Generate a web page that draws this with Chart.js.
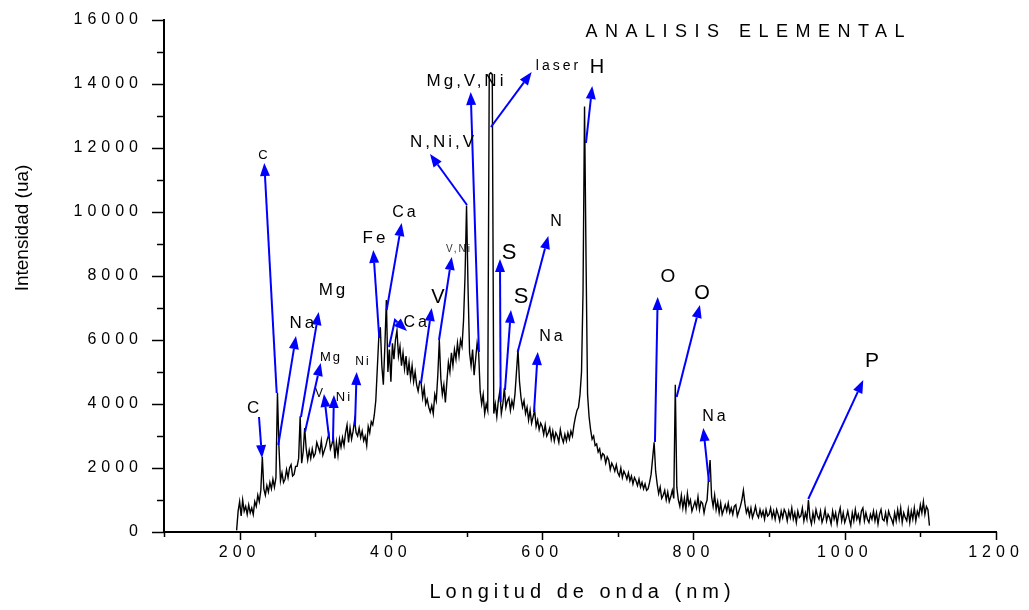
<!DOCTYPE html>
<html>
<head>
<meta charset="utf-8">
<title>Analisis elemental</title>
<script src="https://cdn.jsdelivr.net/npm/chart.js@4.4.0/dist/chart.umd.min.js"></script>
<style>
  html, body { margin: 0; padding: 0; background: #fff; }
  canvas { display: block; }
</style>
</head>
<body>
<canvas id="spectrum" width="1029" height="610"></canvas>
<script>
var WL_START = 196;
var WL_STEP = 2;

var intensity = [
  // 196
  50, 650, 950, 500, 1000, 650, 800, 550, 850, 600,
  // 216
  750, 550, 950, 800, 1150, 950, 1300, 2350, 1350, 1150,
  // 236
  1450, 1250, 1550, 1350, 1650, 1400, 1700, 4350, 2650, 1600,
  // 256
  1850, 1550, 1650, 1950, 1700, 2000, 2100, 1750, 1800, 2050,
  // 276
  2050, 2300, 3620, 2150, 2500, 3250, 2600, 2250, 2550, 2300,
  // 296
  2600, 2350, 2450, 2800, 2650, 2500, 2850, 2400, 2550, 2700,
  // 316
  2900, 3050, 2600, 2750, 2950, 2300, 2800, 2400, 2900, 2650,
  // 336
  2950, 2700, 3100, 3350, 2800, 3250, 2900, 3150, 3500, 3100,
  // 356
  3000, 3250, 2950, 3150, 2850, 3000, 2700, 3300, 3100, 3450,
  // 376
  3350, 3650, 4100, 5100, 6100, 6400, 5200, 4600, 5800, 7250,
  // 396
  5000, 5700, 4700, 5900, 5400, 6000, 6300, 5500, 5800, 5200,
  // 416
  5600, 5100, 5500, 4900, 5300, 4800, 5200, 4700, 5000, 4600,
  // 436
  4400, 4700, 4650, 4200, 4500, 4000, 4150, 3900, 3750, 3950,
  // 456
  3700, 4300, 4100, 4900, 6000, 4800, 4300, 4600, 4050, 4700,
  // 476
  5300, 5000, 5600, 5200, 5700, 5400, 5900, 5500, 6000, 5800,
  // 496
  6600, 8000, 10200, 7600, 5600, 5200, 5700, 4900, 5400, 5900,
  // 516
  5600, 4400, 4000, 4300, 3700, 4000, 3800, 14300, 14350, 14300,
  // 536
  3700, 4000, 3600, 4100, 4400, 3700, 4000, 4500, 3900, 4100,
  // 556
  4200, 3800, 4100, 3900, 4300, 5000, 5700, 4700, 4200, 3900,
  // 576
  4100, 3700, 3900, 3500, 3800, 3400, 3600, 3800, 3300, 3500,
  // 596
  3200, 3400, 3300, 3050, 3350, 3000, 3100, 3250, 2900, 3150,
  // 616
  2850, 3100, 3000, 2800, 3200, 2950, 2800, 3050, 2850, 3100,
  // 636
  2900, 3150, 3000, 3350, 3600, 3800, 3900, 4300, 5000, 7500,
  // 656
  13300, 8500, 4300, 3600, 3200, 2900, 3000, 2700, 2750, 2500,
  // 676
  2600, 2300, 2450, 2400, 2150, 2350, 2250, 1950, 2150, 2050,
  // 696
  1900, 2100, 1850, 1750, 2000, 1700, 1900, 1800, 1650, 1850,
  // 716
  1600, 1750, 1500, 1700, 1600, 1450, 1650, 1400, 1550, 1350,
  // 736
  1500, 1300, 1350, 1550, 1800, 2300, 2800, 1900, 1500, 1200,
  // 756
  1400, 1050, 1150, 1300, 1000, 1250, 950, 1100, 1300, 1050,
  // 776
  4600, 1400, 1000, 800, 1150, 750, 1050, 700, 1200, 850,
  // 796
  1000, 650, 800, 950, 750, 1100, 700, 950, 900, 600,
  // 816
  850, 1000, 1700, 2250, 1100, 800, 1150, 700, 950, 600,
  // 836
  900, 550, 700, 850, 650, 900, 600, 750, 550, 800,
  // 856
  850, 500, 650, 800, 1000, 1300, 900, 600, 750, 500,
  // 876
  750, 450, 600, 800, 550, 450, 700, 500, 650, 400,
  // 896
  700, 500, 550, 750, 450, 650, 400, 700, 550, 350,
  // 916
  650, 450, 700, 600, 350, 650, 450, 750, 400, 600,
  // 936
  300, 650, 450, 500, 750, 350, 600, 400, 1000, 450,
  // 956
  250, 600, 350, 700, 500, 400, 650, 300, 450, 700,
  // 976
  350, 550, 450, 250, 650, 400, 600, 250, 550, 750,
  // 996
  350, 600, 300, 450, 650, 400, 200, 600, 350, 700,
  // 1016
  400, 550, 300, 650, 750, 350, 600, 400, 300, 550,
  // 1036
  400, 650, 350, 600, 250, 550, 700, 400, 350, 600,
  // 1056
  300, 650, 500, 400, 250, 600, 350, 700, 400, 750,
  // 1076
  300, 600, 450, 350, 700, 300, 650, 400, 750, 350,
  // 1096
  650, 500, 850, 600, 950, 550, 800, 700, 200
];
var wavelength = intensity.map(function(v, i) { return WL_START + i * WL_STEP; });

// peak identifications: arrow from the line (nm, ua) to the tip, then the label
var peakNames = ['C', 'C', 'Na', 'Mg', 'Mg', 'V', 'Ni', 'Ni', 'Fe', 'Ca', 'Ca', 'V', 'V,Ni',
  'N,Ni,V', 'Mg,V,Ni', 'laser', 'S', 'S', 'N', 'Na', 'H', 'O', 'O', 'Na', 'P'];
var arrowFrom = [[225.6, 3594], [249.0, 4344], [251.1, 2719], [281.1, 3594], [286.4, 3125],
  [318.1, 2969], [323.4, 2844], [352.5, 3344], [384.6, 6063], [394.4, 6938], [397.5, 5781],
  [439.8, 4656], [463.6, 6000], [500.6, 10219], [516.4, 5625], [532.3, 12656], [545.1, 4063],
  [550.8, 4438], [567.6, 5625], [589.2, 3750], [657.9, 12156], [749.1, 2813], [777.8, 4219],
  [820.5, 1563], [951.8, 1031]];
var arrowTo = [[229.6, 2312], [232.6, 11531], [274.5, 6125], [304.5, 6875], [307.2, 5281],
  [311.5, 4313], [324.7, 4281], [354.7, 5000], [376.7, 8813], [414.2, 9656], [421.3, 6281],
  [453.9, 7000], [480.4, 8594], [451.7, 11813], [505.5, 13750], [586.1, 14375], [544.2, 8531],
  [558.7, 6938], [608.1, 9250], [594.1, 5625], [666.2, 13938], [752.7, 7344], [808.6, 7094],
  [813.0, 3250], [1024.5, 4750]];
var arrowBend = { 10: [405.4, 6625] };
var labelAt = [[217.7, 3875], [230.9, 11781], [282.4, 6531], [322.1, 7563], [319.5, 5469],
  [304.9, 4313], [336.6, 4219], [361.8, 5313], [377.6, 9188], [417.3, 9969], [432.1, 6531],
  [462.2, 7313], [488.7, 8844], [467.5, 12188], [497.9, 14094], [619.6, 14563], [556.1, 8719],
  [572.0, 7344], [618.2, 9688], [611.6, 6094], [672.5, 14531], [766.3, 7969], [811.3, 7469],
  [827.1, 3594], [1036.0, 5344]];
var labelSize = [17, 13, 17, 17, 13, 12, 13, 12, 17, 16, 16, 20, 10, 17, 17, 14, 22, 22, 16, 16,
  20, 19, 20, 16, 21];

var FONT = '"Liberation Sans", Arial, Helvetica, sans-serif';
var BLUE = '#0000ff';

function spacedText(ctx, txt, cx, cy, size, spacing, color) {
  ctx.save();
  ctx.font = size + 'px ' + FONT;
  ctx.letterSpacing = spacing + 'px';
  ctx.fillStyle = color;
  ctx.textBaseline = 'middle';
  ctx.textAlign = 'left';
  var w = ctx.measureText(txt).width - spacing;
  ctx.fillText(txt, cx - w / 2, cy);
  ctx.restore();
}

function drawArrow(ctx, pts) {
  var n = pts.length;
  var tip = pts[n - 1], prev = pts[n - 2];
  var ang = Math.atan2(tip[1] - prev[1], tip[0] - prev[0]);
  var len = 13, half = 5;
  var bx = tip[0] - len * Math.cos(ang), by = tip[1] - len * Math.sin(ang);
  ctx.beginPath();
  ctx.moveTo(pts[0][0], pts[0][1]);
  for (var i = 1; i < n - 1; i++) ctx.lineTo(pts[i][0], pts[i][1]);
  ctx.lineTo(bx, by);
  ctx.stroke();
  ctx.beginPath();
  ctx.moveTo(tip[0], tip[1]);
  ctx.lineTo(bx + half * Math.sin(ang), by - half * Math.cos(ang));
  ctx.lineTo(bx - half * Math.sin(ang), by + half * Math.cos(ang));
  ctx.closePath();
  ctx.fill();
}

var spacedTicks = {
  id: 'spacedTicks',
  beforeDraw: function(chart) {
    chart.ctx.letterSpacing = '5px';
  },
  beforeDatasetsDraw: function(chart) {
    chart.ctx.letterSpacing = '0px';
  }
};

var decorations = {
  id: 'decorations',
  afterDraw: function(chart) {
    var ctx = chart.ctx;
    var xs = chart.scales.x, ys = chart.scales.y;
    var area = chart.chartArea;

    // tick marks, long on labelled values
    ctx.save();
    ctx.strokeStyle = '#000';
    ctx.lineWidth = 1.5;
    xs.ticks.forEach(function(t) {
      var px = Math.round(xs.getPixelForValue(t.value)) + 0.5;
      var l = t.value % 200 === 0 ? 8 : 5;
      ctx.beginPath();
      ctx.moveTo(px, area.bottom);
      ctx.lineTo(px, area.bottom + l);
      ctx.stroke();
    });
    ys.ticks.forEach(function(t) {
      var py = Math.round(ys.getPixelForValue(t.value)) + 0.5;
      var l = t.value % 2000 === 0 ? 12 : 7;
      ctx.beginPath();
      ctx.moveTo(area.left, py);
      ctx.lineTo(area.left - l, py);
      ctx.stroke();
    });
    ctx.restore();

    // axis titles and chart title
    spacedText(ctx, 'Longitud de onda (nm)', (area.left + area.right) / 2, 592, 20, 5, '#000');
    ctx.save();
    ctx.translate(23, 228);
    ctx.rotate(-Math.PI / 2);
    ctx.font = '19px ' + FONT;
    ctx.fillStyle = '#000';
    ctx.textAlign = 'center';
    ctx.textBaseline = 'middle';
    ctx.fillText('Intensidad (ua)', 0, 0);
    ctx.restore();
    spacedText(ctx, 'ANALISIS ELEMENTAL', 745, 32, 18, 7.5, '#000');

    // peak arrows
    ctx.save();
    ctx.strokeStyle = BLUE;
    ctx.fillStyle = BLUE;
    ctx.lineWidth = 2;
    for (var i = 0; i < peakNames.length; i++) {
      var pts = [[xs.getPixelForValue(arrowFrom[i][0]), ys.getPixelForValue(arrowFrom[i][1])]];
      if (arrowBend[i]) {
        pts.push([xs.getPixelForValue(arrowBend[i][0]), ys.getPixelForValue(arrowBend[i][1])]);
      }
      pts.push([xs.getPixelForValue(arrowTo[i][0]), ys.getPixelForValue(arrowTo[i][1])]);
      drawArrow(ctx, pts);
    }
    ctx.restore();

    for (var j = 0; j < peakNames.length; j++) {
      var sz = labelSize[j];
      var sp = Math.max(1, Math.round(sz * 0.18));
      var col = sz <= 10 ? '#333' : '#000';
      spacedText(ctx, peakNames[j], xs.getPixelForValue(labelAt[j][0]),
        ys.getPixelForValue(labelAt[j][1]), sz, sp, col);
    }
  }
};

var points = wavelength.map(function(w, i) { return { x: w, y: intensity[i] }; });

var ctx = document.getElementById('spectrum').getContext('2d');
window.myChart = new Chart(ctx, {
  type: 'line',
  data: {
    datasets: [{
      label: 'espectro',
      data: points,
      borderColor: '#000',
      borderWidth: 1.4,
      pointRadius: 0,
      tension: 0,
      fill: false
    }]
  },
  options: {
    responsive: false,
    animation: false,
    devicePixelRatio: 1,
    layout: { padding: { left: 0, right: 33, top: 20, bottom: 0 } },
    plugins: {
      legend: { display: false },
      title: { display: false },
      tooltip: { enabled: false }
    },
    scales: {
      x: {
        type: 'linear',
        min: 100,
        max: 1200,
        grid: { display: true, drawOnChartArea: false, drawTicks: false },
        border: { display: true, color: '#000', width: 2 },
        ticks: {
          stepSize: 100,
          autoSkip: false,
          maxRotation: 0,
          padding: 11,
          color: '#000',
          font: { family: FONT, size: 16 },
          callback: function(v) { return v % 200 === 0 ? String(v) : ''; }
        },
        afterFit: function(scale) {
          scale.height = 78;
          scale.paddingLeft = 0;
          scale.paddingRight = 0;
        }
      },
      y: {
        min: 0,
        max: 16000,
        grid: { display: true, drawOnChartArea: false, drawTicks: false },
        border: { display: true, color: '#000', width: 2 },
        ticks: {
          stepSize: 1000,
          autoSkip: false,
          padding: 21,
          color: '#000',
          font: { family: FONT, size: 16 },
          callback: function(v) { return v % 2000 === 0 ? String(v) : ''; }
        },
        afterFit: function(scale) {
          scale.width = 164;
          scale.paddingTop = 0;
          scale.paddingBottom = 0;
        }
      }
    }
  },
  plugins: [spacedTicks, decorations]
});
</script>
</body>
</html>
